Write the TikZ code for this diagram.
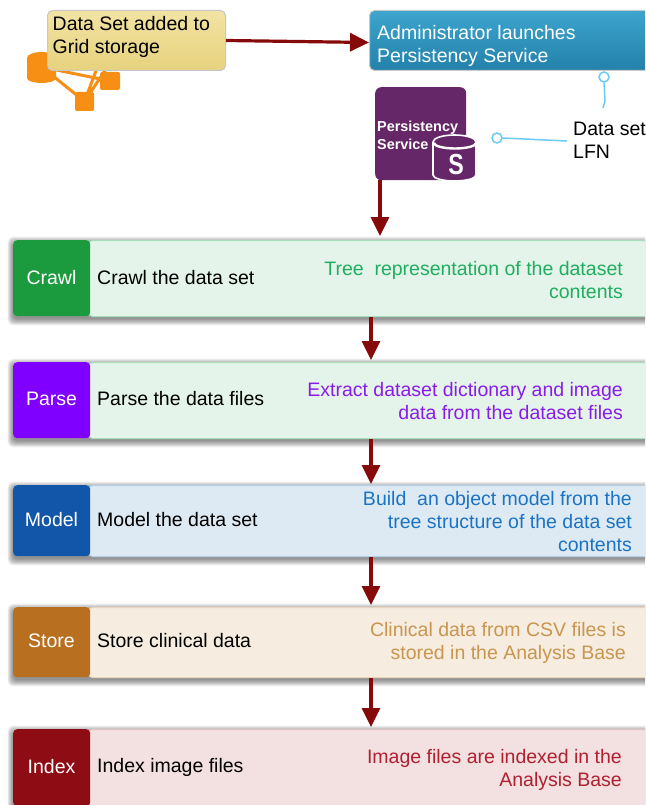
\documentclass[tikz,border=0pt]{standalone}
\usepackage{fontspec}
\setmainfont{Liberation Sans}
\usetikzlibrary{arrows.meta,calc}
\definecolor{flowred}{HTML}{860A0A}
\definecolor{callout}{HTML}{6CCBF5}
\definecolor{iconorange}{HTML}{F78F14}
\definecolor{purp}{HTML}{662769}
\definecolor{yellowtop}{HTML}{F3E3A3}
\definecolor{yellowbot}{HTML}{E6D27E}
\definecolor{bluetop}{HTML}{3DA5CE}
\definecolor{bluebot}{HTML}{2381AA}
\definecolor{crawlhead}{HTML}{1B9A3E}
\definecolor{crawlbody}{HTML}{E4F4EA}
\definecolor{crawlline}{HTML}{A9DDB9}
\definecolor{crawldesc}{HTML}{1FAE5F}
\definecolor{parsehead}{HTML}{8000FF}
\definecolor{parsedesc}{HTML}{8A1CE8}
\definecolor{modelhead}{HTML}{1156A8}
\definecolor{modelbody}{HTML}{DEEAF3}
\definecolor{modelline}{HTML}{B5D0E6}
\definecolor{modeldesc}{HTML}{1A73C4}
\definecolor{storehead}{HTML}{B87020}
\definecolor{storebody}{HTML}{F6ECE0}
\definecolor{storeline}{HTML}{EAD5BB}
\definecolor{storedesc}{HTML}{C8964F}
\definecolor{indexhead}{HTML}{8E0C14}
\definecolor{indexbody}{HTML}{F3E0E0}
\definecolor{indexline}{HTML}{E5C2C2}
\definecolor{indexdesc}{HTML}{B02030}
\tikzset{
  x=1pt,y=-1pt,
  flow/.style={draw=flowred,line width=3.2pt,-{Triangle[length=19pt,width=18pt]}},
  txt/.style={inner sep=0pt,font=\fontsize{19.5}{23}\selectfont},
  desc/.style={txt,align=right,anchor=east},
  headbox/.style={inner sep=0pt,anchor=north west,rounded corners=4pt},
  body/.style={inner sep=0pt,anchor=north west,rounded corners=4pt,line width=1pt},
  ring/.style={circle,draw=callout,line width=1.5pt,fill=white,minimum size=10pt,inner sep=0pt},
  lead/.style={draw=callout,line width=1.5pt},
  iconbox/.style={fill=iconorange,rounded corners=2pt,inner sep=0pt,minimum width=19pt,minimum height=19pt},
  topbox/.style={anchor=north west,inner sep=0pt,rounded corners=5pt,draw=black!22,line width=1pt,minimum height=60pt},
}
\newcommand{\softshadow}[4]{%
  \foreach \e in {9,8,...,0}{%
    \fill[black,opacity=.05,rounded corners=5pt] ({#1-\e*.6},{#2+3-\e*.7}) rectangle ({#3+\e*.6},{#4+3+\e*.7});
  }}
\newcommand{\steprow}[9]{% name, top, bottom, label, headcol, bodycol, bordercol, main text, text y
  \softshadow{13}{#2}{660}{#3}
  \node[body,draw=#7,fill=#6,minimum width=575pt,minimum height=#3pt-#2pt] (#1body) at (88,#2) {};
  \node[headbox,fill=#5,minimum width=77pt,minimum height=#3pt-#2pt] (#1head) at (13,#2) {};
  \node[txt,text=white] (#1label) at (51.5,#9) {#4};
  \node[txt,anchor=west] (#1text) at (97,#9) {#8};
}
\begin{document}
\begin{tikzpicture}
\useasboundingbox (0,0) rectangle (645,805);
\clip (0,0) rectangle (645,805);
\fill[white] (0,0) rectangle (645,805);
\coordinate (axisa) at (371,0);
\coordinate (axisb) at (380,0);

% storage icon
\node[iconbox] (iconb) at (84.5,101.5) {};
\node[iconbox,minimum width=20pt,minimum height=18pt] (iconc) at (110,81) {};
\coordinate (icona) at (42,67);
\draw[iconorange,line width=3pt] (icona) -- (iconb.center) (icona) -- (iconc.center) (iconb.center) -- (100,60) (iconb.center) -- (112,60);
\fill[iconorange] (27,58) -- (27,78) arc[start angle=180,end angle=360,x radius=14.5pt,y radius=5pt] -- (56,58) arc[start angle=0,end angle=180,x radius=14.5pt,y radius=6pt] -- cycle;

% top boxes
\node[topbox,top color=yellowtop,bottom color=yellowbot,minimum width=178pt] (dataset) at (47,10) {};
\node[txt,anchor=north west,align=left] (datasettext) at (52.5,16.5) {Data Set added to\\Grid storage};
\node[topbox,top color=bluetop,bottom color=bluebot,minimum width=300pt] (admin) at (369,10) {};
\node[txt,anchor=north west,align=left,text=white] (admintext) at (377,25) {Administrator launches\\Persistency Service};
\draw[flow] (dataset.east) -- ($(admin.west)+(0,2)$);

% persistency service icon
\node[anchor=north west,fill=purp,rounded corners=6pt,inner sep=0pt,minimum width=91pt,minimum height=93pt] (ps) at (375,87) {};
\node[inner sep=0pt,anchor=north west,align=left,text=white,font=\bfseries\fontsize{14.4}{18}\selectfont] (pstext) at (377,120.5) {Persistency\\Service};
\path[fill=purp,draw=white,line width=1.6pt] (433,142) -- (433,175) arc[start angle=180,end angle=360,x radius=21.5pt,y radius=6pt] -- (476,142) arc[start angle=0,end angle=180,x radius=21.5pt,y radius=7pt] -- cycle;
\draw[white,line width=2.4pt] (434,143) arc[start angle=180,end angle=360,x radius=21pt,y radius=5.5pt];
\node[text=white,inner sep=0pt,xscale=.8,font=\bfseries\fontsize{29}{29}\selectfont] (pss) at (456,165) {S};

% callouts
\node[txt,anchor=north west,align=left] (lfn) at (573,121.5) {Data set\\LFN};
\node[ring] (ringa) at (604,77) {};
\node[ring] (ringb) at (497,138) {};
\coordinate (leada) at (603,108);
\coordinate (leadb) at (567,141);
\draw[lead] (ringa.south) -- (605,101) -- (leada);
\draw[lead] (ringb.east) -- (leadb);

% rows
\steprow{crawl}{240}{316}{Crawl}{crawlhead}{crawlbody}{crawlline}{Crawl the data set}{278}
\steprow{parse}{362}{438}{Parse}{parsehead}{crawlbody}{crawlline}{Parse the data files}{399}
\steprow{model}{485}{556}{Model}{modelhead}{modelbody}{modelline}{Model the data set}{520}
\steprow{store}{607}{677}{Store}{storehead}{storebody}{storeline}{Store clinical data}{641}
\steprow{index}{729}{806}{Index}{indexhead}{indexbody}{indexline}{Index image files}{767}

\node[desc,text=crawldesc] (crawldescn) at (623,280) {Tree\ \ representation of the dataset\\contents};
\node[desc,text=parsedesc] (parsedescn) at (623,401) {Extract dataset dictionary and image\\data from the dataset files};
\node[desc,text=modeldesc] (modeldescn) at (632,521.5) {Build\ \ an object model from the\\tree structure of the data set\\contents};
\node[desc,text=storedesc] (storedescn) at (626,642.5) {Clinical data from CSV files is\\stored in the Analysis Base};
\node[desc,text=indexdesc] (indexdescn) at (622,770) {Image files are indexed in the\\Analysis Base};

% connectors
\draw[flow] (ps.south -| axisb) -- ($(crawlbody.north -| axisb)+(0,-4)$);
\draw[flow] (crawlbody.south -| axisa) -- ($(parsebody.north -| axisa)+(0,-2)$);
\draw[flow] (parsebody.south -| axisa) -- ($(modelbody.north -| axisa)+(0,-1)$);
\draw[flow] (modelbody.south -| axisa) -- ($(storebody.north -| axisa)+(0,-2)$);
\draw[flow] (storebody.south -| axisa) -- ($(indexbody.north -| axisa)+(0,-2)$);
\end{tikzpicture}
\end{document}
